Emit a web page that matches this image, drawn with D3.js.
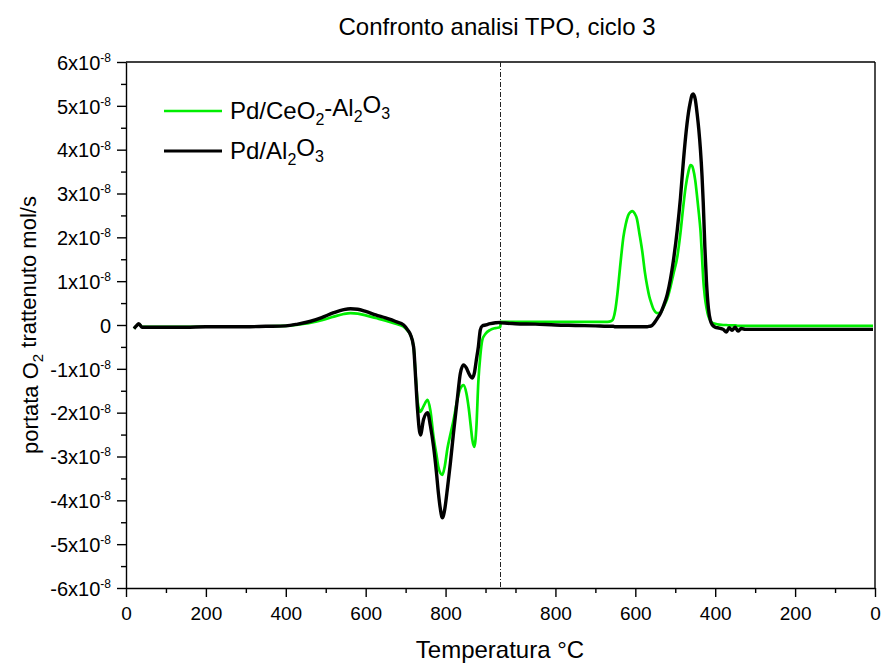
<!DOCTYPE html>
<html>
<head>
<meta charset="utf-8">
<script src="https://cdn.jsdelivr.net/npm/d3@7"></script>
<style>
  html, body { margin: 0; padding: 0; background: #fff; }
  svg { display: block; font-family: "Liberation Sans", Arial, sans-serif; }
</style>
</head>
<body>
<svg id="chart" width="883" height="664"></svg>
<script>
// ---------- DATA (values in units of 1e-8 mol/s) ----------
const titleText = "Confronto analisi TPO, ciclo 3";
const seriesNames = ["Pd/CeO2-Al2O3", "Pd/Al2O3"];
const seriesColors = ["#00ee00", "#000000"];
const tMax = 937.5;                 // top temperature of the cycle (dash-dot line)

// heating ramp (°C)
const heatT = [20, 26, 32, 40, 60, 100, 150, 200, 250, 300, 350, 400, 430, 460, 490,
  520, 545, 562, 580, 600, 625, 650, 675, 695, 705, 712, 720, 725, 730, 737,
  745, 755, 762, 770, 777, 782, 787, 792, 798, 805, 812, 820, 830, 837, 845,
  852, 858, 863, 867, 872, 877, 882, 887, 892, 900, 912, 925, 937];
const heatGreen = [-0.08, -0.02, 0.02, -0.04, -0.04, -0.04, -0.04, -0.04, -0.04, -0.03, -0.03, -0.02, 0.01, 0.05, 0.11,
  0.19, 0.25, 0.27, 0.26, 0.22, 0.16, 0.10, 0.03, -0.04, -0.13, -0.22, -0.5, -1.15, -1.75, -1.98,
  -1.85, -1.71, -1.95, -2.56, -2.95, -3.24, -3.38, -3.42, -3.22, -2.8, -2.5, -2.17, -1.68, -1.45, -1.37,
  -1.55, -1.9, -2.3, -2.62, -2.78, -2.35, -1.3, -0.7, -0.34, -0.2, -0.11, -0.07, -0.05];
const heatBlack = [-0.08, -0.02, 0.03, -0.05, -0.05, -0.05, -0.05, -0.04, -0.04, -0.04, -0.03, -0.02, 0.02, 0.08, 0.17,
  0.28, 0.35, 0.37, 0.36, 0.31, 0.23, 0.16, 0.08, 0.0, -0.11, -0.22, -0.5, -1.2, -1.95, -2.51,
  -2.15, -2.0, -2.3, -2.78, -3.35, -3.83, -4.2, -4.4, -4.2, -3.7, -3.15, -2.45, -1.64, -1.1, -0.91,
  -0.98, -1.1, -1.18, -1.21, -1.1, -0.8, -0.5, -0.11, -0.02, 0.0, 0.03, 0.05, 0.06];

// cooling ramp (°C)
const coolT = [937, 900, 850, 800, 750, 700, 670, 660, 655, 650, 645, 640, 635, 630, 624,
  618, 612, 607, 602, 596, 590, 582, 576, 570, 565, 560, 555, 550, 545, 537,
  530, 520, 512, 505, 495, 487, 480, 474, 467, 462, 458, 455, 450, 445, 441,
  437, 433, 430, 426, 422, 417, 412, 407, 400, 390, 380, 372, 365, 358, 350,
  343, 335, 325, 300, 250, 200, 150, 100, 50, 5];
const coolGreen = [0.07, 0.07, 0.07, 0.07, 0.07, 0.07, 0.07, 0.09, 0.15, 0.35, 0.7, 1.15, 1.6, 2.0, 2.3,
  2.5, 2.58, 2.6, 2.55, 2.42, 2.1, 1.64, 1.2, 0.87, 0.65, 0.5, 0.37, 0.3, 0.27, 0.28,
  0.4, 0.6, 0.87, 1.15, 1.55, 2.1, 2.7, 3.15, 3.5, 3.65, 3.63, 3.55, 3.3, 2.9, 2.55,
  2.17, 1.55, 1.05, 0.65, 0.4, 0.2, 0.1, 0.05, 0.03, 0.01, 0.0, 0.0, -0.01, -0.01, -0.01,
  -0.02, -0.02, -0.02, -0.02, -0.02, -0.02, -0.02, -0.02, -0.02, -0.02];
const coolBlack = [0.05, 0.03, 0.02, 0.0, -0.01, -0.02, -0.03, -0.03, -0.03, -0.04, -0.04, -0.04, -0.04, -0.04, -0.04,
  -0.04, -0.04, -0.04, -0.04, -0.04, -0.04, -0.04, -0.04, -0.04, -0.03, -0.02, 0.02, 0.08, 0.15, 0.27,
  0.42, 0.7, 1.05, 1.45, 2.17, 2.9, 3.7, 4.3, 4.84, 5.1, 5.25, 5.27, 5.15, 4.8, 4.45,
  4.0, 3.4, 2.8, 1.8, 1.0, 0.38, 0.1, 0.0, -0.05, -0.07, -0.1, -0.16, -0.06, -0.12, -0.05,
  -0.14, -0.08, -0.1, -0.1, -0.1, -0.1, -0.1, -0.1, -0.1, -0.1];

// axis ticks
const yTickValues = [-6, -5, -4, -3, -2, -1, 0, 1, 2, 3, 4, 5, 6];
const yMinorValues = [-5.5, -4.5, -3.5, -2.5, -1.5, -0.5, 0.5, 1.5, 2.5, 3.5, 4.5, 5.5];
const xMajorTemps = [0, 200, 400, 600, 800];
const xMinorTemps = [100, 300, 500, 700, 900];

// ---------- LAYOUT ----------
const svg = d3.select("#chart");
const pL = 126, pR = 875, pT = 62, pB = 588;
const uMax = 2 * tMax;  // folded temperature axis: heating then cooling
const x = d3.scaleLinear().domain([0, uMax]).range([pL, pR]);
const y = d3.scaleLinear().domain([-6, 6]).range([pB, pT]);
const uHeat = t => t;
const uCool = t => uMax - t;

// y axis
const yAxis = d3.axisLeft(y).tickValues(yTickValues).tickSize(9).tickSizeOuter(0).tickFormat(() => "");
const gy = svg.append("g").attr("transform", `translate(${pL},0)`).call(yAxis);
gy.select(".domain").attr("stroke", "#000").attr("stroke-width", 1.4);
gy.selectAll(".tick line").attr("stroke", "#000").attr("stroke-width", 1.4);
gy.selectAll(".tick").each(function(d) {
  const t = d3.select(this).append("text")
    .attr("x", -15).attr("dy", "0.36em").attr("fill", "#000")
    .attr("text-anchor", "end").style("font-size", "20px");
  if (d === 0) { t.text("0"); return; }
  t.append("tspan").text(d + "x10");
  t.append("tspan").attr("dy", "-0.65em").style("font-size", "12px").text("-8");
});
svg.append("g").attr("transform", `translate(${pL},0)`)
  .call(d3.axisLeft(y).tickValues(yMinorValues).tickSize(5).tickFormat(""))
  .call(g => g.select(".domain").remove())
  .selectAll(".tick line").attr("stroke", "#000").attr("stroke-width", 1.4);

// x axis (folded: heating ramp on the left, cooling ramp on the right)
const xMajorU = xMajorTemps.map(uHeat).concat(xMajorTemps.map(uCool));
const xMajorLabels = xMajorTemps.concat(xMajorTemps);
const xMinorU = xMinorTemps.map(uHeat).concat(xMinorTemps.map(uCool));
const gx = svg.append("g").attr("transform", `translate(0,${pB})`)
  .call(d3.axisBottom(x).tickValues(xMajorU).tickSize(9).tickSizeOuter(0)
    .tickFormat((d, i) => xMajorLabels[i]));
gx.select(".domain").attr("stroke", "#000").attr("stroke-width", 1.4);
gx.selectAll(".tick line").attr("stroke", "#000").attr("stroke-width", 1.4);
gx.selectAll(".tick text").attr("fill", "#000").attr("y", 19).style("font-size", "19px")
  .style("font-family", "Liberation Sans, Arial, sans-serif");
svg.append("g").attr("transform", `translate(0,${pB})`)
  .call(d3.axisBottom(x).tickValues(xMinorU).tickSize(5).tickFormat(""))
  .call(g => g.select(".domain").remove())
  .selectAll(".tick line").attr("stroke", "#000").attr("stroke-width", 1.4);

// frame (top, right)
svg.append("line").attr("x1", pL).attr("x2", pR).attr("y1", pT).attr("y2", pT)
  .attr("stroke", "#000").attr("stroke-width", 1.4);
svg.append("line").attr("x1", pR).attr("x2", pR).attr("y1", pT).attr("y2", pB)
  .attr("stroke", "#000").attr("stroke-width", 1.4);

// dash-dot line at top temperature
svg.append("line").attr("x1", x(tMax)).attr("x2", x(tMax)).attr("y1", pT).attr("y2", pB)
  .attr("stroke", "#222").attr("stroke-width", 1).attr("stroke-dasharray", "5,2,1,2");

// series
const line = d3.line().x(d => x(d[0])).y(d => y(d[1])).curve(d3.curveMonotoneX);
function buildSeries(hv, cv) {
  return heatT.map((t, i) => [uHeat(t), hv[i]])
    .concat(coolT.map((t, i) => [uCool(t), cv[i]]));
}
const series = [buildSeries(heatGreen, coolGreen), buildSeries(heatBlack, coolBlack)];
const widths = [2.7, 3.4];
series.forEach((s, i) => {
  svg.append("path").datum(s).attr("d", line).attr("fill", "none")
    .attr("stroke", seriesColors[i]).attr("stroke-width", widths[i])
    .attr("stroke-linejoin", "round");
});

// legend
function chemText(sel, str, size, subSize) {
  const parts = str.split(/(\d)/).filter(p => p.length);
  let sub = false;
  parts.forEach(p => {
    if (/^\d$/.test(p)) {
      sel.append("tspan").attr("dy", sub ? 0 : "0.35em").style("font-size", subSize).text(p);
      sub = true;
    } else {
      sel.append("tspan").attr("dy", sub ? "-0.35em" : 0).style("font-size", size).text(p);
      sub = false;
    }
  });
}
const legY = [111, 151];
seriesNames.forEach((n, i) => {
  svg.append("line").attr("x1", 164).attr("x2", 222).attr("y1", legY[i]).attr("y2", legY[i])
    .attr("stroke", seriesColors[i]).attr("stroke-width", i === 0 ? 2.7 : 3.2);
  const t = svg.append("text").attr("x", 230).attr("y", legY[i] + 8).attr("fill", "#000")
    .style("font-size", "24px");
  chemText(t, n, "24px", "16px");
});

// title & axis labels
svg.append("text").attr("x", 497).attr("y", 35).attr("text-anchor", "middle")
  .style("font-size", "24px").attr("fill", "#000").text(titleText);
svg.append("text").attr("x", 500).attr("y", 658).attr("text-anchor", "middle")
  .style("font-size", "24px").attr("fill", "#000").text("Temperatura °C");
const yl = svg.append("text").attr("transform", `translate(38,${(pT + pB) / 2}) rotate(-90)`)
  .attr("text-anchor", "middle").style("font-size", "22px").attr("fill", "#000");
yl.append("tspan").text("portata O");
yl.append("tspan").attr("dy", "0.35em").style("font-size", "15px").text("2");
yl.append("tspan").attr("dy", "-0.35em").text(" trattenuto mol/s");
</script>
</body>
</html>
